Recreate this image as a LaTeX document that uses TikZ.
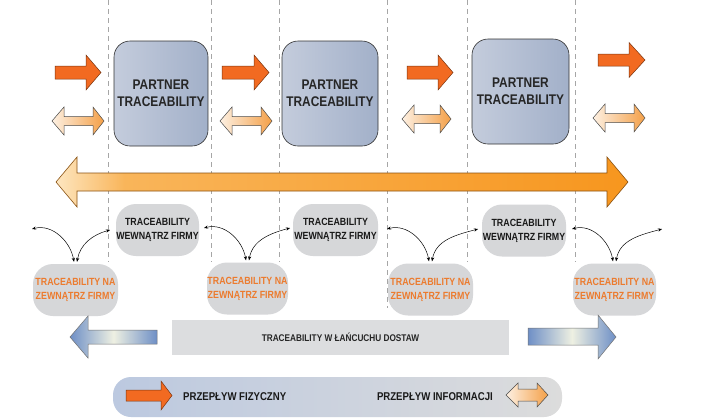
\documentclass[tikz,border=0pt]{standalone}
\usepackage{fontspec}
\setmainfont{Liberation Sans}
\newfontfamily\nar[FakeStretch=0.85]{Liberation Sans}
\usetikzlibrary{arrows.meta}
\definecolor{phys}{HTML}{F26A21}
\definecolor{physd}{HTML}{7A3510}
\definecolor{infol}{HTML}{FDF0E2}
\definecolor{infor}{HTML}{F4A048}
\definecolor{bigl}{HTML}{FDE6C0}
\definecolor{bigm}{HTML}{F9B55A}
\definecolor{bigr}{HTML}{F7961E}
\definecolor{bigd}{HTML}{8A5212}
\definecolor{partl}{HTML}{C4CCDC}
\definecolor{partr}{HTML}{A2B0C9}
\definecolor{boxg}{HTML}{D6D7D9}
\definecolor{natxt}{HTML}{EC7B2E}
\definecolor{bluea}{HTML}{6E8FC6}
\definecolor{bluem}{HTML}{EEF0E2}
\definecolor{bandg}{HTML}{DCDDDF}
\definecolor{legl}{HTML}{BCC9E0}
\definecolor{legr}{HTML}{DCDCDC}
\pgfdeclarehorizontalshading{bigsh}{100bp}{color(0bp)=(bigl); color(25bp)=(bigl); color(31bp)=(bigm); color(75bp)=(bigr); color(100bp)=(bigr)}
\tikzset{
  dline/.style={draw=black!35, line width=0.6pt, dash pattern=on 5pt off 4pt},
  partner/.style={draw=black!80, line width=0.6pt, rounded corners=16pt,
    left color=partl, right color=partr, minimum width=94pt, minimum height=105pt,
    align=center, text=black!85, inner sep=0pt,
    font=\nar\bfseries\fontsize{14}{17}\selectfont},
  inbox/.style={fill=boxg, rounded corners=20pt, minimum width=83pt, minimum height=52pt,
    align=center, inner sep=0pt, text=black!90,
    font=\nar\bfseries\fontsize{10.4}{14}\selectfont},
  outbox/.style={inbox, minimum width=85pt, text=natxt},
  physarr/.style={fill=phys, draw=physd, line width=0.5pt},
  infoarr/.style={left color=infol, right color=infor, draw=black!70, line width=0.5pt},
  bigarr/.style={shading=bigsh, shading angle=0, draw=bigd, line width=0.6pt},
  bluearr/.style={left color=bluea, right color=bluea, middle color=bluem, draw=black!55, line width=0.5pt},
  conn/.style={draw=black, line width=0.5pt,
    {Stealth[length=4pt,width=3.2pt]}-{Stealth[length=4pt,width=3.2pt]}},
  legtxt/.style={inner sep=0pt, text=black!90, font=\nar\bfseries\fontsize{11.3}{13}\selectfont},
}
% x1, head base, tip, yc, half shaft, half head
\newcommand\PhysArrow[6]{%
  \draw[physarr] (#1,{-#4+#5}) -- (#2,{-#4+#5}) -- (#2,{-#4+#6}) -- (#3,{-#4})
    -- (#2,{-#4-#6}) -- (#2,{-#4-#5}) -- (#1,{-#4-#5}) -- cycle;}
% style, left tip, left base, right base, right tip, yc, half shaft, half head
\newcommand\DblArrow[8]{%
  \draw[#1] (#2,{-#6}) -- (#3,{-#6+#8}) -- (#3,{-#6+#7}) -- (#4,{-#6+#7})
    -- (#4,{-#6+#8}) -- (#5,{-#6}) -- (#4,{-#6-#8}) -- (#4,{-#6-#7})
    -- (#3,{-#6-#7}) -- (#3,{-#6-#8}) -- cycle;}
\begin{document}
\begin{tikzpicture}[x=1pt,y=1pt]
\useasboundingbox[fill=white] (0,0) rectangle (703,-418);
% dashed separators
\foreach \xx in {108,211,279,467,575} \draw[dline] (\xx,0) -- (\xx,-262);
\draw[dline] (387,0) -- (387,-308);
% partner boxes
\node[partner] (p1) at (161,-93.5) {PARTNER\\TRACEABILITY};
\node[partner, minimum width=96pt] (p2) at (330,-93.5) {PARTNER\\TRACEABILITY};
\node[partner, minimum width=97pt] (p3) at (520.5,-91.5) {PARTNER\\TRACEABILITY};
% physical flow arrows
\PhysArrow{55}{86}{101}{72.5}{6.5}{17.5}
\PhysArrow{222}{254}{269}{72.5}{6.5}{17.5}
\PhysArrow{407}{438}{453}{72.5}{6.5}{17.5}
\PhysArrow{598}{629}{645}{60}{6}{17.5}
% information flow arrows
\DblArrow{infoarr}{52}{64}{93}{104}{121}{4.5}{14}
\DblArrow{infoarr}{220}{232}{261}{272}{121}{4.5}{14}
\DblArrow{infoarr}{402}{414}{440}{451}{119}{4.5}{14}
\DblArrow{infoarr}{593}{605}{634}{645}{118}{4.5}{14}
% big arrow
\DblArrow{bigarr}{56}{77}{607}{628}{182}{9}{25}
% inside boxes
\node[inbox] (w1) at (157.5,-230) {TRACEABILITY\\WEWNĄTRZ FIRMY};
\node[inbox, minimum width=85pt] (w2) at (335.5,-230) {TRACEABILITY\\WEWNĄTRZ FIRMY};
\node[inbox, minimum width=84pt] (w3) at (524,-230.5) {TRACEABILITY\\WEWNĄTRZ FIRMY};
% outside boxes
\node[outbox] (n1) at (75.5,-290) {TRACEABILITY NA\\ZEWNĄTRZ FIRMY};
\node[outbox, minimum width=81pt] (n2) at (247.5,-288.5) {TRACEABILITY NA\\ZEWNĄTRZ FIRMY};
\node[outbox] (n3) at (430.5,-289.5) {TRACEABILITY NA\\ZEWNĄTRZ FIRMY};
\node[outbox, minimum width=83pt] (n4) at (614.5,-289.5) {TRACEABILITY NA\\ZEWNĄTRZ FIRMY};
% curved connectors
\coordinate (e1l) at (32,-229);  \coordinate (e1r) at (110,-230);
\coordinate (e2l) at (204,-228); \coordinate (e2r) at (290,-228);
\coordinate (e3l) at (387,-229); \coordinate (e3r) at (478,-229);
\coordinate (e4l) at (572,-229); \coordinate (e4r) at (662,-229);
\foreach \i in {1,2,3,4}{
  \draw[conn] (e\i l) to[out=15,in=100] ([xshift=-1.5pt,yshift=2pt]n\i.north);
  \draw[conn] ([xshift=1.5pt,yshift=2pt]n\i.north) to[out=80,in=195] (e\i r);
}
% supply chain band
\node[fill=bandg, minimum width=337pt, minimum height=35pt, inner sep=0pt, text=black!85,
  font=\nar\bfseries\fontsize{9.7}{12}\selectfont] (band) at (340.5,-337.5) {TRACEABILITY W ŁAŃCUCHU DOSTAW};
\draw[bluearr] (70,-337) -- (88,-316) -- (88,-330) -- (157,-330) -- (157,-344)
  -- (88,-344) -- (88,-358) -- cycle;
\draw[bluearr] (528,-328) -- (598,-328) -- (598,-315) -- (616,-337) -- (598,-359)
  -- (598,-345) -- (528,-345) -- cycle;
% legend
\node[left color=legl, right color=legr, rounded corners=18pt, minimum width=449pt,
  minimum height=40pt, inner sep=0pt] (leg) at (337.5,-397) {};
\PhysArrow{126}{161}{172}{395.5}{5.5}{14.5}
\node[legtxt, anchor=west] (lf) at (183,-397) {PRZEPŁYW FIZYCZNY};
\node[legtxt, anchor=east] (li) at (493,-397) {PRZEPŁYW INFORMACJI};
\DblArrow{infoarr}{506}{518}{537}{548}{395}{6}{12}
\end{tikzpicture}
\end{document}
